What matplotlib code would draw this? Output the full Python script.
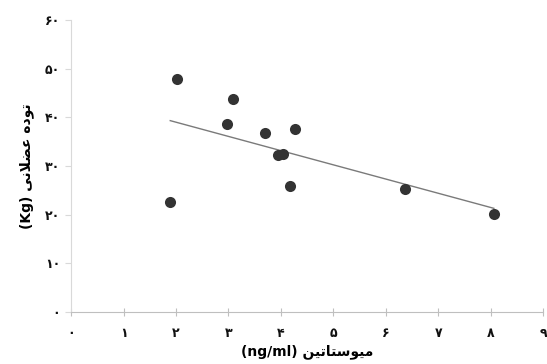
import numpy as np
import matplotlib
matplotlib.use("Agg")
import matplotlib.pyplot as plt

# myostatin (ng/ml) vs muscle mass (Kg)
myostatin = [1.89, 2.02, 2.98, 3.08, 3.69, 3.95, 4.04, 4.18, 4.27, 6.36, 8.06]
muscle_mass = [22.7, 47.8, 38.7, 43.7, 36.7, 32.2, 32.4, 25.9, 37.7, 25.3, 20.1]

x_ticks = list(range(0, 10))
y_ticks = list(range(0, 61, 10))
fa_digits = "۰۱۲۳۴۵۶۷۸۹"

# labels pre-shaped (presentation forms, visual order) since matplotlib has no RTL shaping
x_label = "(ng/ml) " + "\uFEE6\uFEF4\uFE97\uFE8E\uFE98\uFEB3\uFEEE\uFEF4\uFEE3"
y_label = "(Kg) " + "\uFEF0\uFEE7\uFEFC\uFEC0\uFECB" + " " + "\uFEE9\uFEA9\uFEEE\uFE97"


def fa(n):
    return "".join(fa_digits[int(c)] for c in str(n))


fig = plt.figure(figsize=(5.47, 3.64), dpi=100)
ax = fig.add_axes([0.130, 0.143, 0.863, 0.802])

ax.scatter(myostatin, muscle_mass, s=64, color="#333333", zorder=3, linewidths=0)

coef = np.polyfit(myostatin, muscle_mass, 1)
xs = np.array([min(myostatin), max(myostatin)])
ax.plot(xs, np.polyval(coef, xs), color="#7a7a7a", linewidth=1.0, zorder=2)

ax.set_xlim(0, 9)
ax.set_ylim(0, 60)
ax.set_xticks(x_ticks)
ax.set_xticklabels([fa(v) for v in x_ticks])
ax.set_yticks(y_ticks)
ax.set_yticklabels([fa(v) for v in y_ticks])

for s in ("top", "right"):
    ax.spines[s].set_visible(False)
ax.spines["left"].set_color("#d9d9d9")
ax.spines["bottom"].set_color("#bfbfbf")
ax.tick_params(axis="x", direction="inout", length=6, color="#bfbfbf", pad=8,
               labelsize=9, labelcolor="#111111")
ax.tick_params(axis="y", direction="out", length=4, color="#d9d9d9", pad=4,
               labelsize=9, labelcolor="#111111")
for lab in ax.get_xticklabels() + ax.get_yticklabels():
    lab.set_fontweight("bold")

ax.set_xlabel(x_label, fontsize=10, fontweight="bold", labelpad=3)
ax.set_ylabel(y_label, fontsize=10, fontweight="bold", labelpad=8)

fig.savefig("out.png", dpi=100)
